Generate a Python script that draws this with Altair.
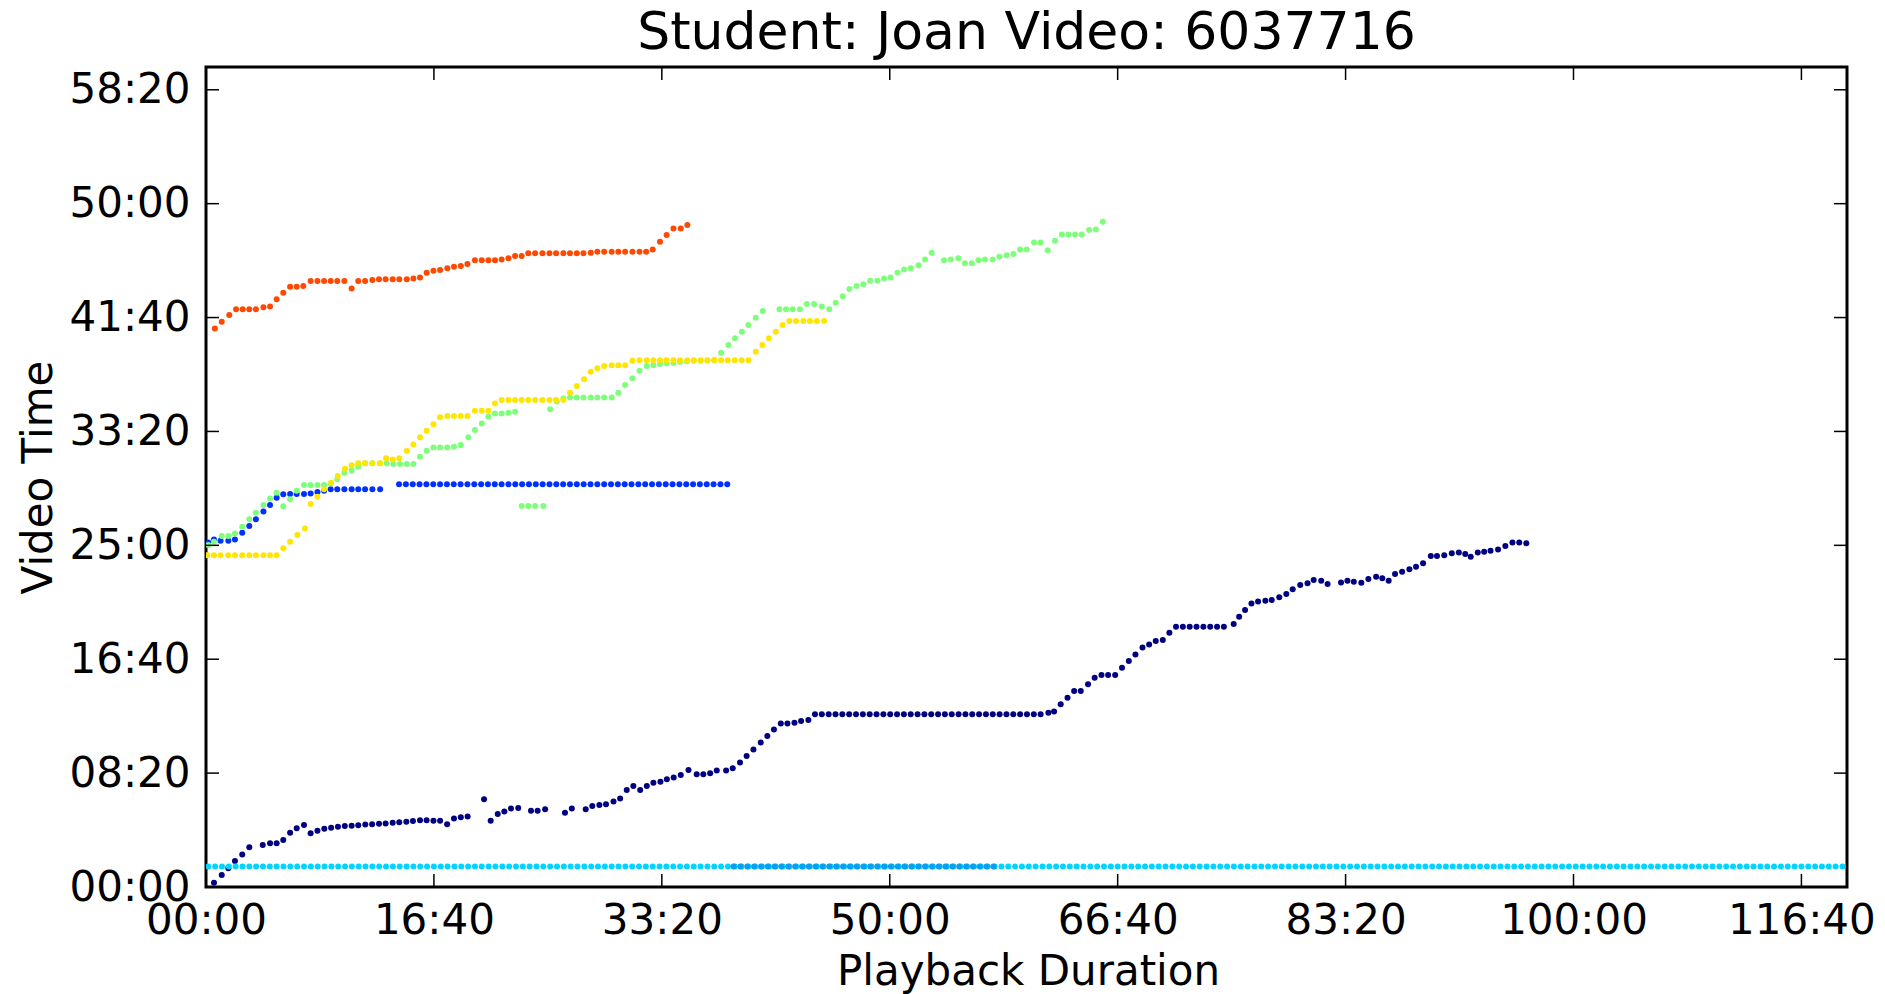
import altair as alt
import pandas as pd

TITLE = "Student: Joan Video: 6037716"
X_TITLE = "Playback Duration"
Y_TITLE = "Video Time"
X_TICKS = [0, 1000, 2000, 3000, 4000, 5000, 6000, 7000]
Y_TICKS = [0, 500, 1000, 1500, 2000, 2500, 3000, 3500]
X_MAX = 7200
Y_MAX = 3600

SESSIONS = ["s0", "s1", "s2", "s2b", "s3", "s4", "s5"]
COLORS = ["#000080", "#0030ff", "#00d4ff", "#0a9ff0", "#7dff7a", "#ffe500", "#ff4800"]

# (playback seconds, video seconds)
NAVY = [(35, 19), (69, 53), (98, 82), (127, 114), (159, 143), (190, 174), (249, 184), (281, 192),
        (310, 192), (339, 206), (369, 238), (398, 258), (430, 272), (459, 236), (489, 247), (519, 256),
        (549, 260), (579, 265), (609, 268), (639, 269), (668, 271), (699, 274), (729, 275), (759, 278),
        (788, 279), (819, 282), (848, 284), (879, 287), (908, 290), (939, 293), (968, 293), (998, 291),
        (1027, 291), (1058, 276), (1088, 301), (1118, 306), (1148, 309), (1220, 385), (1249, 291),
        (1280, 320), (1309, 331), (1338, 345), (1370, 347), (1426, 335), (1455, 335), (1488, 341),
        (1575, 326), (1605, 345), (1666, 341), (1695, 356), (1726, 360), (1755, 363), (1788, 375),
        (1817, 389), (1846, 426), (1875, 443), (1905, 426), (1934, 443), (1963, 458), (1994, 462),
        (2022, 473), (2052, 481), (2083, 492), (2117, 514), (2153, 495), (2182, 495), (2212, 499),
        (2241, 511), (2282, 511), (2311, 521), (2343, 547), (2372, 575), (2402, 604), (2434, 634),
        (2463, 663), (2492, 692), (2522, 718), (2551, 718), (2582, 721), (2611, 729), (2643, 733),
        (2672, 758), (2702, 758), (2732, 758), (2762, 758), (2792, 758), (2822, 758), (2852, 758),
        (2882, 758), (2912, 758), (2942, 758), (2972, 758), (3002, 758), (3032, 758), (3062, 758),
        (3092, 758), (3122, 758), (3152, 758), (3182, 758), (3212, 758), (3242, 758), (3272, 758),
        (3302, 758), (3332, 758), (3362, 758), (3392, 758), (3422, 758), (3452, 758), (3482, 758),
        (3512, 758), (3542, 758), (3572, 758), (3602, 758), (3632, 758), (3662, 758), (3696, 765),
        (3721, 770), (3750, 802), (3780, 831), (3809, 860), (3838, 860), (3870, 890), (3899, 919),
        (3929, 931), (3958, 931), (3989, 931), (4019, 963), (4049, 992), (4078, 1021), (4109, 1051),
        (4138, 1065), (4167, 1080), (4198, 1084), (4227, 1116), (4256, 1143), (4286, 1143),
        (4316, 1143), (4346, 1143), (4376, 1143), (4406, 1143), (4436, 1143), (4466, 1143),
        (4509, 1155), (4533, 1187), (4559, 1216), (4587, 1245), (4616, 1253), (4648, 1257),
        (4676, 1260), (4709, 1272), (4740, 1286), (4768, 1307), (4801, 1326), (4833, 1333),
        (4860, 1348), (4893, 1345), (4921, 1330), (4980, 1337), (5008, 1345), (5036, 1340),
        (5069, 1336), (5100, 1352), (5134, 1362), (5161, 1355), (5189, 1345), (5217, 1374),
        (5248, 1384), (5280, 1395), (5309, 1406), (5340, 1421), (5374, 1453), (5401, 1453),
        (5433, 1457), (5466, 1465), (5497, 1468), (5525, 1462), (5549, 1450), (5580, 1468),
        (5608, 1472), (5636, 1476), (5669, 1482), (5701, 1497), (5732, 1512), (5762, 1512),
        (5793, 1509)]

BLUE = [(10, 1512), (35, 1526), (64, 1520), (98, 1520), (127, 1526), (159, 1555), (190, 1585),
        (219, 1614), (252, 1648), (281, 1677), (310, 1709), (339, 1724), (369, 1725), (398, 1725),
        (430, 1725), (459, 1728), (489, 1734), (518, 1740), (547, 1746), (576, 1746), (607, 1746),
        (639, 1746), (668, 1746), (698, 1746), (730, 1746), (764, 1746)]
BLUE_FLAT_S = list(range(847, 2300, 30))
BLUE_FLAT_V = 1768

CYAN_S = list(range(10, 7200, 30))
CYAN_V = 90
CYAN_DARK_S = list(range(2315, 3480, 30))
CYAN_DARK_V = 90

GREEN = [(10, 1501), (35, 1516), (69, 1541), (98, 1541), (127, 1552), (159, 1582), (190, 1614),
         (219, 1643), (252, 1677), (281, 1706), (310, 1731), (339, 1672), (369, 1702), (398, 1740),
         (430, 1765), (459, 1765), (489, 1765), (518, 1765), (547, 1772), (576, 1790), (607, 1819),
         (639, 1828), (668, 1845), (698, 1860), (730, 1860), (764, 1860), (793, 1860), (822, 1857),
         (851, 1857), (881, 1857), (910, 1857), (939, 1889), (968, 1915), (998, 1930), (1027, 1930),
         (1059, 1930), (1088, 1933), (1118, 1940), (1151, 1974), (1180, 2006), (1210, 2035),
         (1239, 2065), (1268, 2079), (1297, 2079), (1327, 2082), (1356, 2087), (1385, 1673),
         (1414, 1673), (1444, 1673), (1480, 1673), (1510, 2097), (1539, 2131), (1568, 2145),
         (1597, 2149), (1627, 2149), (1656, 2149), (1688, 2149), (1717, 2149), (1747, 2149),
         (1780, 2149), (1809, 2170), (1839, 2204), (1871, 2233), (1902, 2267), (1934, 2287),
         (1963, 2291), (1992, 2296), (2021, 2299), (2051, 2301), (2080, 2306), (2110, 2308),
         (2140, 2310), (2170, 2310), (2200, 2312), (2230, 2314), (2260, 2346), (2292, 2379),
         (2321, 2409), (2351, 2438), (2380, 2467), (2412, 2499), (2443, 2529), (2516, 2536),
         (2545, 2536), (2574, 2536), (2606, 2536), (2636, 2559), (2668, 2559), (2702, 2548),
         (2735, 2536), (2763, 2565), (2794, 2594), (2823, 2625), (2855, 2638), (2884, 2646),
         (2914, 2662), (2946, 2662), (2975, 2672), (3004, 2676), (3034, 2697), (3063, 2711),
         (3092, 2716), (3126, 2730), (3155, 2755), (3184, 2785), (3238, 2752), (3268, 2755),
         (3301, 2760), (3330, 2738), (3360, 2738), (3389, 2752), (3418, 2755), (3452, 2755),
         (3481, 2767), (3513, 2774), (3543, 2779), (3572, 2799), (3601, 2799), (3633, 2829),
         (3662, 2829), (3693, 2796), (3725, 2837), (3755, 2865), (3784, 2865), (3813, 2865),
         (3842, 2865), (3875, 2884), (3904, 2887), (3935, 2921)]

YELLOW = [(6, 1457), (35, 1457), (64, 1457), (98, 1457), (127, 1457), (159, 1457), (190, 1457),
          (219, 1457), (252, 1457), (281, 1457), (310, 1457), (339, 1487), (369, 1516), (401, 1545),
          (434, 1574), (459, 1681), (489, 1713), (518, 1746), (549, 1775), (578, 1804), (610, 1836),
          (639, 1852), (668, 1860), (698, 1860), (730, 1860), (764, 1860), (790, 1882), (819, 1877),
          (848, 1882), (881, 1915), (910, 1943), (939, 1974), (968, 2003), (998, 2032), (1027, 2062),
          (1059, 2068), (1088, 2068), (1118, 2068), (1147, 2068), (1180, 2091), (1210, 2091),
          (1239, 2091), (1268, 2123), (1297, 2138), (1327, 2138), (1356, 2138), (1385, 2138),
          (1414, 2138), (1444, 2138), (1476, 2138), (1507, 2138), (1536, 2138), (1568, 2138),
          (1597, 2170), (1627, 2199), (1659, 2229), (1688, 2262), (1717, 2277), (1747, 2287),
          (1780, 2291), (1809, 2291), (1839, 2291), (1871, 2310), (1902, 2313), (1934, 2313),
          (1963, 2313), (1992, 2313), (2021, 2313), (2051, 2313), (2080, 2313), (2112, 2313),
          (2141, 2313), (2171, 2313), (2200, 2313), (2230, 2313), (2260, 2313), (2289, 2313),
          (2320, 2313), (2350, 2313), (2380, 2313), (2412, 2350), (2441, 2379), (2470, 2409),
          (2500, 2438), (2530, 2467), (2560, 2485), (2589, 2485), (2621, 2485), (2650, 2485),
          (2680, 2485), (2712, 2485)]

ORANGE = [(39, 2452), (69, 2482), (102, 2511), (132, 2536), (161, 2536), (190, 2536), (219, 2536),
          (252, 2545), (281, 2548), (310, 2580), (339, 2609), (369, 2635), (398, 2635), (427, 2638),
          (459, 2660), (489, 2660), (518, 2660), (547, 2660), (576, 2660), (607, 2660), (639, 2628),
          (668, 2660), (698, 2660), (730, 2665), (759, 2668), (788, 2668), (819, 2668), (848, 2668),
          (881, 2668), (910, 2672), (939, 2676), (968, 2697), (998, 2706), (1027, 2709), (1059, 2716),
          (1088, 2723), (1118, 2726), (1147, 2735), (1180, 2752), (1210, 2752), (1239, 2752),
          (1268, 2752), (1297, 2755), (1327, 2760), (1356, 2770), (1385, 2770), (1414, 2782),
          (1444, 2782), (1476, 2782), (1507, 2782), (1536, 2782), (1568, 2782), (1597, 2782),
          (1627, 2782), (1656, 2782), (1688, 2784), (1717, 2789), (1747, 2789), (1780, 2789),
          (1809, 2789), (1839, 2789), (1871, 2789), (1902, 2789), (1931, 2789), (1960, 2799),
          (1992, 2833), (2021, 2862), (2051, 2891), (2083, 2891), (2112, 2906)]

# ---- build table -------------------------------------------------------------
rows = []
rows += [{"s": s, "v": v, "session": "s0"} for s, v in NAVY]
rows += [{"s": s, "v": v, "session": "s1"} for s, v in BLUE]
rows += [{"s": s, "v": BLUE_FLAT_V, "session": "s1"} for s in BLUE_FLAT_S]
rows += [{"s": s, "v": CYAN_V, "session": "s2"} for s in CYAN_S]
rows += [{"s": s, "v": CYAN_DARK_V, "session": "s2b"} for s in CYAN_DARK_S]
rows += [{"s": s, "v": v, "session": "s3"} for s, v in GREEN]
rows += [{"s": s, "v": v, "session": "s4"} for s, v in YELLOW]
rows += [{"s": s, "v": v, "session": "s5"} for s, v in ORANGE]
df = pd.DataFrame(rows)

W, H = 1641, 820
TICK = 13
FONT = "DejaVu Sans"

LABEL_EXPR = ("(floor(datum.value/60) < 10 ? '0' : '') + floor(datum.value/60) + ':' + "
              "(datum.value % 60 < 10 ? '0' : '') + (datum.value % 60)")

x_enc = alt.X(
    "s:Q",
    scale=alt.Scale(domain=[0, X_MAX], nice=False, zero=False),
    axis=alt.Axis(values=X_TICKS, labelExpr=LABEL_EXPR, title=X_TITLE, ticks=False, tickSize=0,
                  domain=False, grid=False, labelPadding=13, labelFlush=False, labelOverlap=False,
                  titleX=822, titleY=97, titleBaseline="alphabetic", titleAlign="center"),
)
y_enc = alt.Y(
    "v:Q",
    scale=alt.Scale(domain=[0, Y_MAX], nice=False, zero=False),
    axis=alt.Axis(values=Y_TICKS, labelExpr=LABEL_EXPR, title=Y_TITLE, ticks=False, tickSize=0,
                  domain=False, grid=False, labelPadding=16, labelFlush=False, labelOverlap=False,
                  titleX=-155, titleY=410, titleAngle=270, titleBaseline="alphabetic",
                  titleAlign="center"),
)

points = alt.Chart(df).mark_circle(size=36, opacity=1, clip=True).encode(
    x=x_enc,
    y=y_enc,
    color=alt.Color("session:N", scale=alt.Scale(domain=SESSIONS, range=COLORS), legend=None),
)

xt = pd.DataFrame({"s": X_TICKS})
yt = pd.DataFrame({"v": Y_TICKS})
rule_style = dict(color="black", strokeWidth=1.5)
x_bottom = alt.Chart(xt).mark_rule(**rule_style).encode(x=x_enc, y=alt.value(H - TICK), y2=alt.value(H))
x_top = alt.Chart(xt).mark_rule(**rule_style).encode(x=x_enc, y=alt.value(0), y2=alt.value(TICK))
y_left = alt.Chart(yt).mark_rule(**rule_style).encode(y=y_enc, x=alt.value(0), x2=alt.value(TICK))
y_right = alt.Chart(yt).mark_rule(**rule_style).encode(y=y_enc, x=alt.value(W - TICK), x2=alt.value(W))

chart = alt.layer(points, x_bottom, x_top, y_left, y_right).properties(
    width=W,
    height=H,
    title=alt.TitleParams(TITLE, fontSize=52, font=FONT, fontWeight="normal", color="black",
                          offset=6, anchor="middle"),
    padding={"left": 206, "top": 67, "right": 38, "bottom": 107},
    autosize=alt.AutoSizeParams(type="none"),
    background="white",
).configure_view(
    stroke="black", strokeWidth=3
).configure_axis(
    labelFont=FONT, labelFontSize=42, labelColor="black",
    titleFont=FONT, titleFontSize=42, titleColor="black", titleFontWeight="normal",
)

chart.save("out.html", embed_options={"renderer": "svg", "actions": False})
